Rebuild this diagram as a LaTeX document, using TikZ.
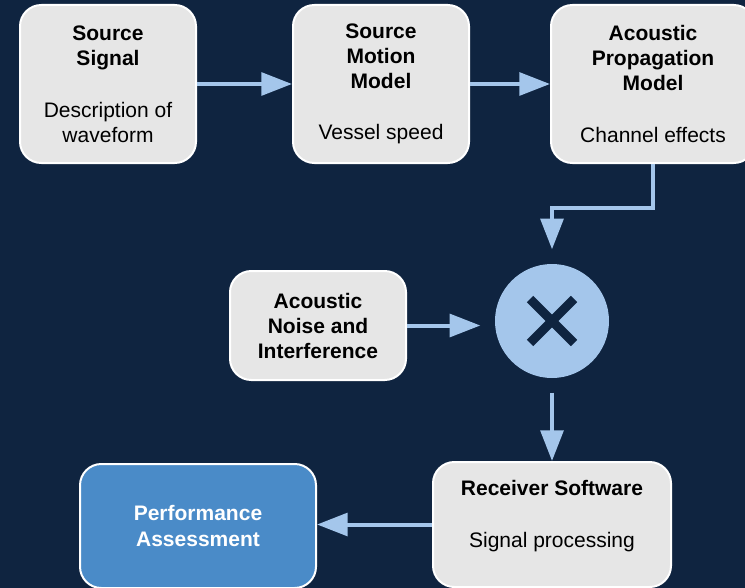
\documentclass[tikz,border=0pt]{standalone}
\usepackage{fontspec}
\setmainfont{Liberation Sans}
\usetikzlibrary{arrows.meta}
\definecolor{navybg}{HTML}{0F2440}
\definecolor{boxgray}{HTML}{E6E6E6}
\definecolor{linkblue}{HTML}{A4C6EB}
\definecolor{perfblue}{HTML}{4A8BC8}

\begin{document}
\begin{tikzpicture}[x=0.75pt,y=-0.75pt]
\tikzstyle{every node}=[font=\fontsize{15.75pt}{18.75pt}\selectfont]

\edef\boxround{16pt}
\edef\titlegap{20pt}
\tikzstyle{stage}=[draw=white,line width=1.5pt,fill=boxgray,rounded corners=\boxround,
  align=center,text=black,inner sep=0pt,minimum width=132pt,minimum height=118.5pt]
\tikzstyle{result}=[stage,fill=perfblue,text=white,font=\fontsize{15.75pt}{20pt}\selectfont\bfseries]
\tikzstyle{link}=[draw=linkblue,line width=3pt,-{Triangle[length=23pt,width=17pt]}]
\tikzstyle{mixer}=[circle,fill=linkblue,minimum size=85.5pt,inner sep=0pt,outer sep=11pt]
\tikzstyle{cross}=[draw=navybg,line width=6.75pt]

%% Background, cut to the frame
\fill[navybg] (0,0) rectangle (745,588);
\useasboundingbox (0,0) rectangle (745,588);
\clip (0,0) rectangle (745,588);

%% Top row: signal chain
\node[stage] (signal) at (108,84) {\textbf{Source}\\\textbf{Signal}\\[\titlegap]Description of\\waveform};
\node[stage] (motion) at (381,84) {\textbf{Source}\\\textbf{Motion}\\\textbf{Model}\\[\titlegap]Vessel speed};
\node[stage,minimum width=153pt] (channel) at (653,84) {\textbf{Acoustic}\\\textbf{Propagation}\\\textbf{Model}\\[\titlegap]Channel effects};

%% Middle row: noise and mixing
\node[stage,minimum height=81.75pt,font=\fontsize{15.75pt}{18.75pt}\selectfont\bfseries] (noise) at (318,325.5) {Acoustic\\Noise and\\Interference};
\node[mixer] (mix) at (552,321) {};
\draw[cross] (mix.center) ++(-22,-22) -- ++(44,44);
\draw[cross] (mix.center) ++(22,-22) -- ++(-44,44);

%% Bottom row: receiver and assessment
\node[stage,minimum width=178.5pt,minimum height=93.75pt] (rx) at (552,524.5) {};
\node[align=center] (rxtext) at (552,516) {\textbf{Receiver Software}\\[\titlegap]Signal processing};
\node[result,minimum width=177pt,minimum height=93pt] (perf) at (198,526) {Performance\\Assessment};

%% Links
\draw[link] (signal) -- (motion);
\draw[link] (motion) -- (channel);
\draw[link] (channel.south) -- ++(0,44) -| (mix.north);
\draw[link] (noise.east) -- (noise.east -| mix.west);
\draw[link] (mix.south) -- (rx.north);
\draw[link] (rx.west) -- (rx.west -| perf.east);
\end{tikzpicture}
\end{document}
